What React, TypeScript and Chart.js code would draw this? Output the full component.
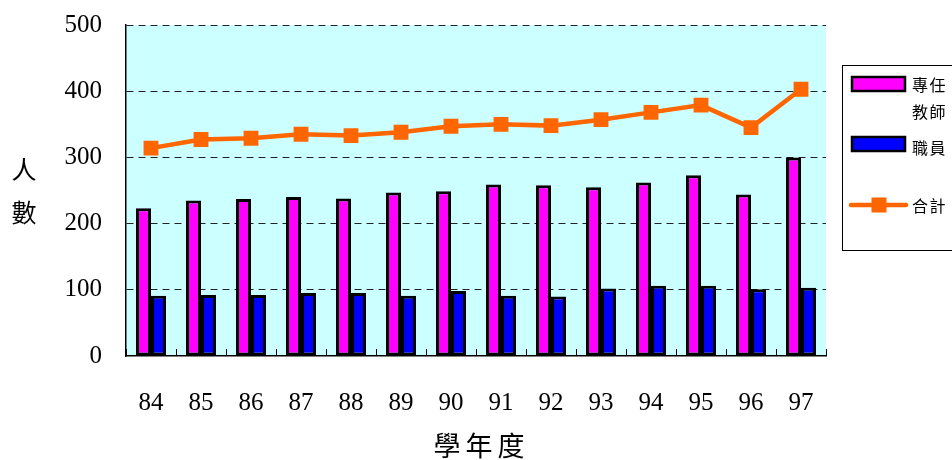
import React, { useEffect, useRef } from "react";
import { Chart, registerables } from "chart.js";

Chart.register(...registerables);

const years = ["84", "85", "86", "87", "88", "89", "90", "91", "92", "93", "94", "95", "96", "97"];
const teachers = [223, 235, 237, 240, 238, 247, 249, 259, 258, 255, 262, 273, 244, 300];
const staff = [91, 92, 92, 95, 95, 91, 98, 91, 90, 102, 106, 106, 101, 103];
const totals = [314, 327, 329, 335, 333, 338, 347, 350, 348, 357, 368, 379, 345, 403];
const seriesLabels = ["專任教師", "職員", "合計"];
const yTitle = "人數";
const xTitle = "學年度";
const yMin = 0;
const yMax = 500;
const yStep = 100;

const PINK = "#FF00FF";
const BLUE = "#0000FF";
const ORANGE = "#FF6600";
const CJK = '"Noto Sans CJK TC", "Noto Sans CJK SC", sans-serif';
const SERIF = '"Liberation Serif", "DejaVu Serif", serif';

const decor = {
  id: "decor",
  beforeDraw(chart: any) {
    const { ctx, chartArea: a } = chart;
    ctx.save();
    ctx.fillStyle = "#CCFFFF";
    ctx.fillRect(a.left, a.top, a.right - a.left, a.bottom - a.top);
    ctx.restore();
  },
  afterDraw(chart: any) {
    const { ctx, chartArea: a, scales } = chart;
    const xs = scales.x;
    ctx.save();
    // small inner tick marks at category boundaries
    ctx.strokeStyle = "#000";
    ctx.lineWidth = 1;
    for (let i = 0; i <= years.length; i++) {
      const x = Math.round(xs.getPixelForValue(i - 0.5)) + 0.5;
      ctx.beginPath();
      ctx.moveTo(x, a.bottom);
      ctx.lineTo(x, a.bottom - 7);
      ctx.stroke();
    }
    // y title (stacked characters)
    ctx.fillStyle = "#000";
    ctx.textAlign = "center";
    ctx.textBaseline = "middle";
    ctx.font = `25px ${CJK}`;
    [...yTitle].forEach((c, i) => ctx.fillText(c, 24, 169 + i * 43));
    // x title (spaced characters)
    ctx.font = `27px ${CJK}`;
    const chars = [...xTitle];
    const adv = 32;
    const cx = (a.left + a.right) / 2 + 3;
    chars.forEach((c, i) => ctx.fillText(c, cx + (i - (chars.length - 1) / 2) * adv, 446));

    // legend
    const ds = chart.data.datasets;
    const byLabel = (l: string) => ds.find((d: any) => d.label === l);
    const dTeach = byLabel(seriesLabels[0]);
    const dStaff = byLabel(seriesLabels[1]);
    const dTotal = byLabel(seriesLabels[2]);
    ctx.fillStyle = "#FFFFFF";
    ctx.fillRect(842, 65, 200, 185);
    ctx.strokeStyle = "#000";
    ctx.lineWidth = 1;
    ctx.strokeRect(842.5, 65.5, 200, 185);

    const drawLabel = (text: string, x: number, y: number) => {
      ctx.fillStyle = "#000";
      ctx.font = `16px ${CJK}`;
      ctx.textAlign = "center";
      ctx.textBaseline = "middle";
      const cs = [...text];
      const lines: string[][] = [];
      for (let i = 0; i < cs.length; i += 2) lines.push(cs.slice(i, i + 2));
      lines.forEach((ln, li) => {
        ln.forEach((c, ci) => ctx.fillText(c, x + 8 + ci * 17.5, y + li * 27));
      });
    };

    // bar swatches
    const sw = [
      { d: dTeach, y: 77, ty: 85 },
      { d: dStaff, y: 137, ty: 148 },
    ];
    sw.forEach((s) => {
      ctx.fillStyle = s.d.backgroundColor;
      ctx.fillRect(852, s.y, 53, 14);
      ctx.strokeStyle = "#000";
      ctx.lineWidth = 2.5;
      ctx.strokeRect(852, s.y, 53, 14);
      drawLabel(s.d.label, 912, s.ty);
    });
    // line swatch
    ctx.strokeStyle = dTotal.borderColor;
    ctx.lineWidth = 4.5;
    ctx.lineCap = "round";
    ctx.beginPath();
    ctx.moveTo(851, 205);
    ctx.lineTo(906, 205);
    ctx.stroke();
    ctx.fillStyle = dTotal.pointBackgroundColor;
    ctx.fillRect(871.5, 197.5, 15, 15);
    drawLabel(dTotal.label, 912, 206);
    ctx.restore();
  },
};

export default function App() {
  const ref = useRef<HTMLCanvasElement | null>(null);
  useEffect(() => {
    document.body.style.margin = "0";
    if (!ref.current) return;
    const chart = new Chart(ref.current, {
      type: "bar",
      data: {
        labels: years,
        datasets: [
          {
            type: "line",
            label: seriesLabels[2],
            data: totals,
            borderColor: ORANGE,
            backgroundColor: ORANGE,
            pointBackgroundColor: ORANGE,
            pointBorderWidth: 0,
            pointStyle: "rect",
            pointRadius: 10.5,
            borderWidth: 4.5,
            tension: 0,
            order: 0,
          } as any,
          {
            type: "bar",
            label: seriesLabels[0],
            data: teachers,
            backgroundColor: PINK,
            borderColor: "#000",
            borderWidth: 3,
            borderSkipped: false,
            categoryPercentage: 0.6,
            barPercentage: 1.0,
            order: 1,
          },
          {
            type: "bar",
            label: seriesLabels[1],
            data: staff,
            backgroundColor: BLUE,
            borderColor: "#000",
            borderWidth: 3,
            borderSkipped: false,
            categoryPercentage: 0.6,
            barPercentage: 1.0,
            order: 1,
          },
        ],
      },
      options: {
        responsive: false,
        animation: false,
        devicePixelRatio: 1,
        layout: { padding: { left: 0, right: 126, top: 25, bottom: 0 } },
        plugins: { legend: { display: false }, tooltip: { enabled: false } },
        scales: {
          x: {
            type: "category",
            offset: true,
            grid: { display: false },
            border: { display: true, color: "#000", width: 1.5 },
            ticks: {
              color: "#000",
              font: { family: SERIF, size: 25 },
              padding: 24,
              maxRotation: 0,
              autoSkip: false,
            },
            afterFit: (s: any) => {
              s.height = 104;
              s.paddingLeft = 0;
              s.paddingRight = 0;
            },
          },
          y: {
            min: yMin,
            max: yMax,
            grid: {
              drawTicks: false,
              color: (c: any) => (c.tick && c.tick.value === 0 ? "rgba(0,0,0,0)" : "#222"),
              lineWidth: 1,
            },
            border: { display: true, color: "#000", width: 1.5, dash: [7, 5] },
            ticks: {
              stepSize: yStep,
              color: "#000",
              font: { family: SERIF, size: 25 },
              padding: 24,
            },
            afterFit: (s: any) => {
              s.width = 126;
              s.paddingTop = 0;
              s.paddingBottom = 0;
            },
          },
        },
      },
      plugins: [decor],
    } as any);
    return () => chart.destroy();
  }, []);
  return (
    <div style={{ width: 952, height: 460 }}>
      <canvas ref={ref} width={952} height={460} style={{ width: 952, height: 460, display: "block" }} />
    </div>
  );
}
